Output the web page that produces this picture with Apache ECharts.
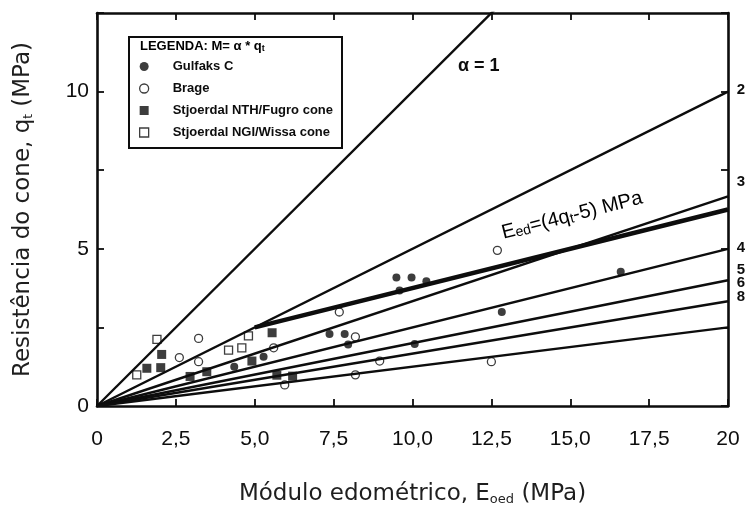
<!DOCTYPE html>
<html>
<head>
<meta charset="utf-8">
<script src="https://cdn.jsdelivr.net/npm/echarts@6/dist/echarts.min.js"></script>
<style>
  html, body { margin: 0; padding: 0; background: #fff; }
  #chart { width: 750px; height: 511px; }
</style>
</head>
<body>
<div id="chart"></div>
<script>
// Axis ticks and their printed labels
const xTicks = [0, 2.5, 5, 7.5, 10, 12.5, 15, 17.5, 20];
const xTickLabels = ['0', '2,5', '5,0', '7,5', '10,0', '12,5', '15,0', '17,5', '20'];
const yTicks = [0, 5, 10];
const yTickLabels = ['0', '5', '10'];

// Reference lines M = alpha * qt (qt = Eoed / alpha)
const alphas = [1, 2, 3, 4, 5, 6, 8];
const alphaEndLabels = ['2', '3', '4', '5', '6', '8'];

// Eed = 4 qt - 5, drawn over this Eoed range
const eedRange = [5, 20];

// Measured points [Eoed (MPa), qt (MPa)]
const gulfaksC = [
  [4.35, 1.25], [5.28, 1.57], [7.37, 2.29], [7.85, 2.29], [7.96, 1.96],
  [9.49, 4.09], [9.97, 4.09], [10.44, 3.97], [9.59, 3.67], [10.07, 1.97],
  [12.83, 2.99], [16.6, 4.27]
];
const brage = [
  [2.61, 1.54], [3.22, 2.15], [3.22, 1.41], [5.6, 1.85], [5.95, 0.67],
  [7.68, 2.99], [8.19, 2.2], [8.96, 1.43], [8.19, 0.99], [12.5, 1.41],
  [12.69, 4.95]
];
const stjoerdalNTH = [
  [1.58, 1.2], [2.05, 1.64], [2.02, 1.22], [2.95, 0.94], [3.48, 1.09],
  [4.91, 1.43], [5.55, 2.33], [5.7, 0.98], [6.2, 0.95]
];
const stjoerdalNGI = [
  [1.26, 0.99], [1.9, 2.12], [4.17, 1.78], [4.59, 1.85], [4.8, 2.23]
];

const NUM_FONT = 'Liberation Sans';
const NAME_FONT = 'DejaVu Sans';
const INK = '#0d0d0d';
const NAME_INK = '#1e1e1e';

const chart = echarts.init(document.getElementById('chart'), null, { renderer: 'canvas' });

function xLabel(v) {
  const i = xTicks.findIndex(t => Math.abs(t - v) < 1e-6);
  return i >= 0 ? xTickLabels[i] : '';
}
function yLabel(v) {
  const i = yTicks.findIndex(t => Math.abs(t - v) < 1e-6);
  return i >= 0 ? yTickLabels[i] : '';
}

const frameAxis = {
  axisLine: { show: true, onZero: false, lineStyle: { color: INK, width: 2.6 } },
  axisTick: { show: true, inside: true, length: 7, lineStyle: { color: INK, width: 1.8 } },
  splitLine: { show: false }
};

const alphaSeries = alphas.map(a => ({
  name: 'alpha=' + a,
  type: 'line',
  data: [[0, 0], [20, 20 / a]],
  symbol: 'none',
  silent: true,
  clip: true,
  z: 3,
  lineStyle: { color: INK, width: 2.4 }
}));

const eedSeries = {
  name: 'Eed',
  type: 'line',
  data: eedRange.map(e => [e, (e + 5) / 4]),
  symbol: 'none',
  silent: true,
  z: 3,
  lineStyle: { color: INK, width: 4.4 }
};

const openStyle = { color: '#fff', borderColor: INK, borderWidth: 1.3 };
const scatterSeries = [
  { name: 'Gulfaks C', type: 'scatter', data: gulfaksC, symbol: 'circle', symbolSize: 8, itemStyle: { color: INK }, z: 2 },
  { name: 'Brage', type: 'scatter', data: brage, symbol: 'circle', symbolSize: 8, itemStyle: openStyle, z: 2 },
  { name: 'Stjoerdal NTH/Fugro cone', type: 'scatter', data: stjoerdalNTH, symbol: 'square', symbolSize: 9, itemStyle: { color: INK }, z: 2 },
  { name: 'Stjoerdal NGI/Wissa cone', type: 'scatter', data: stjoerdalNGI, symbol: 'square', symbolSize: 8, itemStyle: openStyle, z: 2 }
];

const subRich = (F, f, Ln, Ls, font, weight, color) => ({
  n: { fontSize: F, lineHeight: Ln, verticalAlign: 'bottom', fontFamily: font, fontWeight: weight, color: color || INK },
  s: { fontSize: f, lineHeight: Ls, verticalAlign: 'bottom', fontFamily: font, fontWeight: weight, color: color || INK }
});

// Labels at the right end of the alpha lines
const endLabelY = [90, 182, 248, 270, 283, 297];
const endLabels = alphaEndLabels.map((t, i) => ({
  type: 'text', x: 741, y: endLabelY[i], z: 10,
  style: { text: t, fill: INK, font: 'bold 15px "Liberation Sans"', textAlign: 'center', textVerticalAlign: 'middle' }
}));

chart.setOption({
  animation: false,
  backgroundColor: '#fff',
  grid: { left: 97, right: 22, top: 13, bottom: 103, containLabel: false },
  xAxis: [
    Object.assign({
      type: 'value', position: 'bottom', min: 0, max: 20, interval: 2.5,
      axisLabel: { show: true, margin: 23, fontFamily: NUM_FONT, fontSize: 21, color: INK, formatter: xLabel, showMinLabel: true, showMaxLabel: true },
      name: '{n|Módulo edométrico, E}{s|oed}{n| (MPa)}',
      nameLocation: 'middle', nameGap: 73,
      nameTextStyle: { rich: subRich(23, 13, 27, 18, NAME_FONT, 'normal', NAME_INK) }
    }, frameAxis),
    Object.assign({
      type: 'value', position: 'top', min: 0, max: 20, interval: 2.5,
      axisLabel: { show: false }
    }, frameAxis)
  ],
  yAxis: [
    Object.assign({
      type: 'value', position: 'left', min: 0, max: 12.5, interval: 2.5,
      axisLabel: { show: true, margin: 8, fontFamily: NUM_FONT, fontSize: 21, color: INK, formatter: yLabel, showMinLabel: true },
      name: '{n|Resistência do cone, q}{s|t}{n| (MPa)}',
      nameLocation: 'middle', nameGap: 62, nameRotate: 90,
      nameTextStyle: { rich: subRich(23, 12, 27, 17, NAME_FONT, 'normal', NAME_INK) }
    }, frameAxis),
    Object.assign({
      type: 'value', position: 'right', min: 0, max: 12.5, interval: 2.5,
      axisLabel: { show: false }
    }, frameAxis)
  ],
  legend: {
    orient: 'vertical', left: 139, top: 60, padding: 0, itemGap: 9,
    itemWidth: 9, itemHeight: 9, selectedMode: false, z: 6,
    itemStyle: { borderWidth: 1.3 },
    textStyle: { fontFamily: NUM_FONT, fontSize: 13, fontWeight: 'bold', color: INK, padding: [0, 0, 0, 19] },
    data: [
      { name: 'Gulfaks C', icon: 'circle' },
      { name: 'Brage', icon: 'circle' },
      { name: 'Stjoerdal NTH/Fugro cone', icon: 'rect' },
      { name: 'Stjoerdal NGI/Wissa cone', icon: 'rect' }
    ]
  },
  graphic: [
    { type: 'rect', z: 1, shape: { x: 129, y: 37, width: 213, height: 111 },
      style: { fill: '#fff', stroke: INK, lineWidth: 2 } },
    { type: 'text', x: 140, y: 46, z: 10,
      style: { text: '{n|LEGENDA: M= α * q}{s|t}', rich: subRich(13, 9, 14, 7, NUM_FONT, 'bold'), textVerticalAlign: 'middle' } },
    { type: 'text', x: 458, y: 66, z: 10,
      style: { text: 'α = 1', fill: INK, font: 'bold 18px "Liberation Sans"', textVerticalAlign: 'middle' } },
    { type: 'text', x: 502, y: 233, z: 10, rotation: 0.25,
      style: { text: '{n|E}{s|ed}{n|=(4q}{s|t}{n|-5) MPa}', rich: subRich(20, 14, 21, 12, NUM_FONT, 'normal'), textVerticalAlign: 'middle' } }
  ].concat(endLabels),
  series: scatterSeries.concat(alphaSeries, [eedSeries])
});
</script>
</body>
</html>
